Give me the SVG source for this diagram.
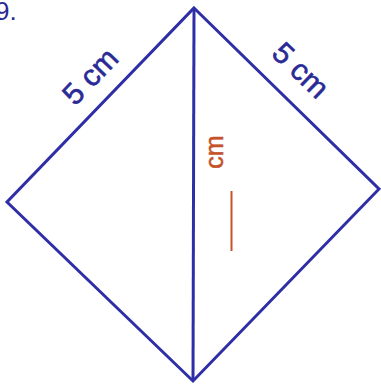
<svg xmlns="http://www.w3.org/2000/svg" width="381" height="385" viewBox="0 0 381 385">
<style>
.edge{stroke:#2e2ea6;stroke-width:3;fill:none;stroke-linejoin:miter}
.lbl{font-family:"Liberation Sans","DejaVu Sans",sans-serif;font-size:30px;fill:#2a2a96;stroke:#2a2a96;stroke-width:0.6;text-anchor:middle;dominant-baseline:central}
.ans{font-family:"Liberation Sans","DejaVu Sans",sans-serif;font-size:25px;fill:#c4532a;stroke:#c4532a;stroke-width:0.5;text-anchor:middle;dominant-baseline:central}
</style>
<rect width="381" height="385" fill="#ffffff"/>
<text x="-5" y="20" style="font-family:'Liberation Sans',sans-serif;font-size:26px;fill:#2a2a96">9.</text>
<g id="connectors">
<polygon class="edge" points="194,8 379,189 193,381 7,202"/>
<line class="edge" x1="194" y1="8" x2="193" y2="381"/>
</g>
<g id="label-left"><text class="lbl" transform="translate(90,76) rotate(-46)">5 cm</text></g>
<g id="label-right"><text class="lbl" transform="translate(301,70) rotate(44)">5 cm</text></g>
<g id="label-middle">
<text class="ans" transform="translate(214,152) rotate(-90)">cm</text>
<line x1="231.5" y1="191" x2="231.5" y2="251" stroke="#c4532a" stroke-width="2"/>
</g>
</svg>
